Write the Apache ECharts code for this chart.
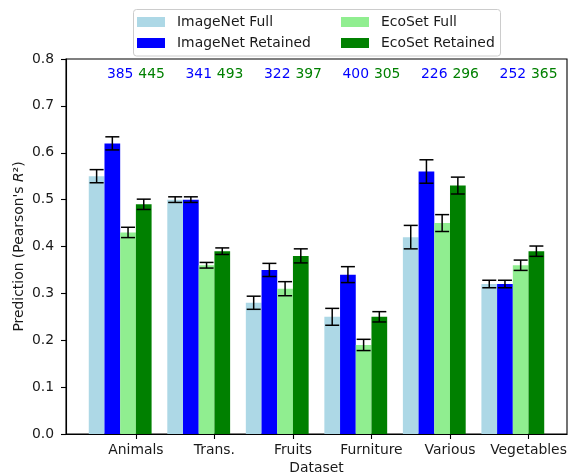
<!DOCTYPE html>
<html><head><meta charset="utf-8">
<script src="https://cdn.jsdelivr.net/npm/echarts@6/dist/echarts.min.js"></script>
<style>html,body{margin:0;padding:0;background:#fff}#c{width:569px;height:474px}</style>
</head><body><div id="c"></div>
<script>
const categories = ['Animals', 'Trans.', 'Fruits', 'Furniture', 'Various', 'Vegetables'];
const seriesNames = ['ImageNet Full', 'ImageNet Retained', 'EcoSet Full', 'EcoSet Retained'];
const seriesColors = ['#add8e6', '#0000ff', '#90ee90', '#008000'];
const imagenetFull = [0.55, 0.50, 0.28, 0.25, 0.42, 0.32];
const imagenetFullErr = [0.014, 0.006, 0.014, 0.018, 0.025, 0.008];
const imagenetRetained = [0.62, 0.50, 0.35, 0.34, 0.56, 0.32];
const imagenetRetainedErr = [0.014, 0.006, 0.014, 0.017, 0.025, 0.008];
const ecosetFull = [0.43, 0.36, 0.31, 0.19, 0.45, 0.36];
const ecosetFullErr = [0.011, 0.006, 0.015, 0.012, 0.018, 0.011];
const ecosetRetained = [0.49, 0.39, 0.38, 0.25, 0.53, 0.39];
const ecosetRetainedErr = [0.011, 0.007, 0.015, 0.011, 0.018, 0.011];
const imagenetCounts = [385, 341, 322, 400, 226, 252];
const ecosetCounts = [445, 493, 397, 305, 296, 365];
const yTickLabels = ['0.0', '0.1', '0.2', '0.3', '0.4', '0.5', '0.6', '0.7', '0.8'];

const FONT = 'DejaVu Sans';
const FS = 13.9;
const BW = 0.2;          // bar width in data units
const ANNOT_Y = 0.767;   // height of count annotations
const values = [imagenetFull, imagenetRetained, ecosetFull, ecosetRetained];
const errors = [imagenetFullErr, imagenetRetainedErr, ecosetFullErr, ecosetRetainedErr];

function barRender(params, api) {
  const x = api.value(0), y = api.value(1);
  const p0 = api.coord([x - BW / 2, y]);
  const p1 = api.coord([x + BW / 2, 0]);
  return { type: 'rect', shape: { x: p0[0], y: p0[1], width: p1[0] - p0[0], height: p1[1] - p0[1] },
    style: { fill: api.visual('color') } };
}
function errRender(params, api) {
  const x = api.value(0);
  const a = api.coord([x, api.value(1)]), b = api.coord([x, api.value(2)]);
  const cap = 7, st = { stroke: '#000', lineWidth: 1.5 };
  return { type: 'group', children: [
    { type: 'line', shape: { x1: a[0], y1: a[1], x2: b[0], y2: b[1] }, style: st },
    { type: 'line', shape: { x1: a[0] - cap, y1: a[1], x2: a[0] + cap, y2: a[1] }, style: st },
    { type: 'line', shape: { x1: b[0] - cap, y1: b[1], x2: b[0] + cap, y2: b[1] }, style: st }
  ] };
}
function textRender(color) {
  return function (params, api) {
    const p = api.coord([api.value(0), api.value(1)]);
    return { type: 'text', x: p[0], y: p[1], style: { text: String(api.value(2)), fill: color,
      font: FS + 'px "' + FONT + '"', align: 'center', verticalAlign: 'middle' } };
  };
}

const series = [];
values.forEach((vals, k) => {
  series.push({ type: 'custom', name: seriesNames[k], renderItem: barRender,
    itemStyle: { color: seriesColors[k] }, encode: { x: 0, y: 1 },
    data: vals.map((v, i) => [i + (k - 1.5) * BW, v]) });
});
values.forEach((vals, k) => {
  series.push({ type: 'custom', name: 'err' + k, renderItem: errRender, z: 5,
    encode: { x: 0, y: [1, 2] },
    data: vals.map((v, i) => [i + (k - 1.5) * BW, v - errors[k][i], v + errors[k][i]]) });
});
series.push({ type: 'custom', name: 'cntI', renderItem: textRender('#0000ff'), z: 6,
  encode: { x: 0, y: 1 }, data: imagenetCounts.map((c, i) => [i, ANNOT_Y, c]) });
series.push({ type: 'custom', name: 'cntE', renderItem: textRender('#008000'), z: 6,
  encode: { x: 0, y: 1 }, data: ecosetCounts.map((c, i) => [i + 2 * BW, ANNOT_Y, c]) });

const legendCommon = { orient: 'vertical', top: 14, padding: 0, itemWidth: 28, itemHeight: 10,
  itemGap: 5, icon: 'rect', selectedMode: false,
  textStyle: { fontFamily: FONT, fontSize: FS, color: '#1a1a1a', lineHeight: 16, padding: [0, 0, 0, 7] } };

const chart = echarts.init(document.getElementById('c'), null, { renderer: 'canvas' });
chart.setOption({
  animation: false,
  backgroundColor: '#fff',
  grid: { left: 66, right: 2, top: 59, bottom: 40, show: true, borderColor: '#000', borderWidth: 1.1,
    outerBoundsMode: 'none', containLabel: false },
  graphic: [{ type: 'rect', shape: { x: 133.5, y: 9.5, width: 367, height: 46.5, r: 3 },
    style: { fill: 'rgba(255,255,255,0.8)', stroke: '#cccccc', lineWidth: 1 }, z: 0 }],
  legend: [
    Object.assign({}, legendCommon, { left: 137, data: [seriesNames[0], seriesNames[1]] }),
    Object.assign({}, legendCommon, { left: 341, data: [seriesNames[2], seriesNames[3]] })
  ],
  xAxis: {
    type: 'value', min: -0.69, max: 5.69,
    name: 'Dataset', nameLocation: 'middle', nameGap: 27, nameMoveOverlap: false,
    nameTextStyle: { fontFamily: FONT, fontSize: FS, color: '#1a1a1a' },
    axisLine: { show: true, onZero: false, lineStyle: { color: '#000', width: 1.1 } },
    axisTick: { show: true, length: 5, lineStyle: { color: '#000', width: 1.1 },
      customValues: categories.map((c, i) => i + BW) },
    axisLabel: { fontFamily: FONT, fontSize: FS, color: '#1a1a1a', margin: 9,
      customValues: categories.map((c, i) => i + BW),
      formatter: v => categories[Math.round(v - BW)] },
    splitLine: { show: false }
  },
  yAxis: {
    type: 'value', min: 0, max: 0.8, interval: 0.1,
    name: "{n|Prediction (Pearson's }{i|R}{n|²)}", nameLocation: 'middle', nameGap: 40, nameRotate: 90,
    nameMoveOverlap: false,
    nameTextStyle: { fontFamily: FONT, fontSize: FS, color: '#1a1a1a',
      rich: { n: { fontFamily: FONT, fontSize: FS, color: '#1a1a1a' },
              i: { fontFamily: FONT, fontSize: FS, fontStyle: 'italic', color: '#1a1a1a' } } },
    axisLine: { show: true, onZero: false, lineStyle: { color: '#000', width: 1.1 } },
    axisTick: { show: true, length: 5, lineStyle: { color: '#000', width: 1.1 } },
    axisLabel: { fontFamily: FONT, fontSize: FS, color: '#1a1a1a', margin: 12,
      formatter: v => yTickLabels[Math.round(v * 10)] },
    splitLine: { show: false }
  },
  series: series
});
</script></body></html>
